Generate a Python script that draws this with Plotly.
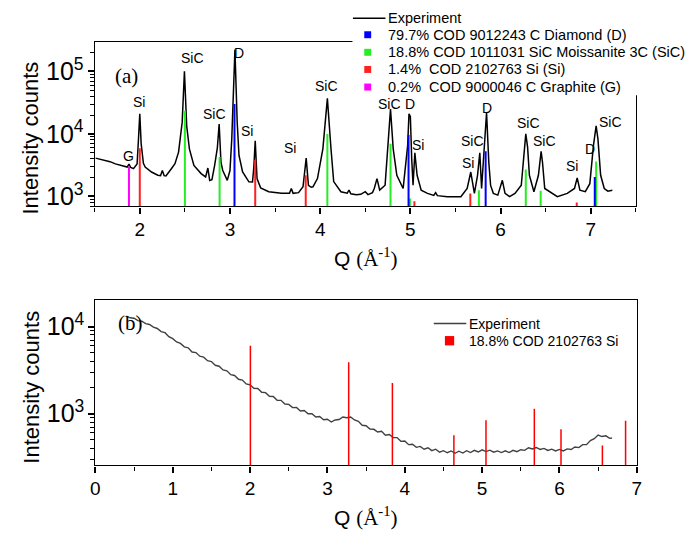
import plotly.graph_objects as go

W, H = 697, 533
SANS = "Liberation Sans, Arial, sans-serif"
SERIF = "Liberation Serif, Times New Roman, serif"

# ---------------- panel (a): diffraction pattern ----------------
q_a = [1.51, 1.56, 1.62, 1.67, 1.73, 1.78, 1.82, 1.86, 1.88, 1.90, 1.93, 1.97, 1.985, 2.00, 2.015,
       2.04, 2.06, 2.13, 2.20, 2.23, 2.25, 2.27, 2.29, 2.33, 2.35, 2.39, 2.43, 2.47, 2.495, 2.52,
       2.55, 2.60, 2.68, 2.73, 2.755, 2.775, 2.80, 2.83, 2.86, 2.88, 2.90, 2.92, 2.94, 2.97, 3.00,
       3.02, 3.055, 3.08, 3.10, 3.14, 3.21, 3.25, 3.265, 3.28, 3.30, 3.34, 3.43, 3.50, 3.57, 3.66,
       3.68, 3.70, 3.76, 3.81, 3.845, 3.87, 3.90, 3.92, 3.97, 4.03, 4.08, 4.12, 4.15, 4.23, 4.30,
       4.32, 4.34, 4.40, 4.45, 4.50, 4.53, 4.58, 4.60, 4.63, 4.66, 4.72, 4.75, 4.78, 4.81, 4.85,
       4.92, 4.97, 4.985, 5.00, 5.015, 5.03, 5.05, 5.075, 5.12, 5.19, 5.26, 5.28, 5.30, 5.41, 5.56,
       5.63, 5.67, 5.71, 5.745, 5.77, 5.79, 5.82, 5.845, 5.87, 5.89, 5.92, 5.97, 6.02, 6.05, 6.10,
       6.16, 6.23, 6.26, 6.28, 6.30, 6.32, 6.37, 6.42, 6.45, 6.465, 6.49, 6.56, 6.63, 6.74, 6.82,
       6.85, 6.88, 6.94, 6.99, 7.03, 7.06, 7.08, 7.11, 7.15, 7.19, 7.24]
i_a = [4100, 3950, 3770, 3600, 3320, 3150, 3030, 2950, 3300, 2900, 2780, 3300, 8000, 21000, 7000,
       3400, 2960, 2460, 2180, 2150, 2610, 2150, 2130, 2500, 2780, 3340, 5120, 15300, 101000, 13500,
       5770, 3140, 2320, 2050, 2850, 1800, 1850, 3150, 6000, 14400, 3550, 2600, 2200, 1810, 2600,
       8300, 224000, 15400, 4530, 2460, 1710, 1700, 3000, 7800, 1930, 1370, 1190, 1140, 1120, 1120,
       1340, 1120, 1150, 1425, 4100, 1510, 1400, 1425, 1930, 5780, 37000, 5800, 1730, 1190, 1130,
       1260, 1100, 1060, 1080, 1190, 1070, 1150, 1340, 1930, 1260, 1510, 6500, 24900, 5780, 2180,
       1340, 6500, 21000, 19000, 4000, 1510, 4980, 2180, 1260, 1120, 1040, 1150, 1030, 990, 990,
       1340, 2460, 1120, 2180, 4980, 1340, 6500, 22000, 3500, 1500, 1120, 1050, 1810, 1120, 990,
       1120, 1510, 4530, 10000, 6150, 2180, 1190, 2180, 5250, 3550, 1340, 1150, 990, 1120, 1340,
       1980, 1260, 1190, 1600, 6500, 13500, 8320, 2180, 1340, 1215, 1260]

# reference reflections: positions and stick heights
diamond_q = [3.05, 4.98, 5.835, 7.045]
diamond_h = [30000, 9600, 5300, 2050]
sic_q = [2.50, 2.885, 4.08, 4.78, 4.995, 5.76, 6.28, 6.445, 7.06]
sic_h = [23500, 4270, 10000, 6950, 930, 1260, 2700, 1230, 3630]
si_q = [2.00, 3.28, 3.84, 5.045, 5.665, 6.845]
si_h = [5900, 3870, 2180, 840, 1115, 800]
graphite_q = [1.88]
graphite_h = [3000]

peak_labels = ["G", "Si", "SiC", "SiC", "D", "Si", "Si", "SiC", "SiC", "D", "Si", "SiC",
               "Si", "D", "SiC", "SiC", "Si", "D", "SiC"]
peak_label_q = [1.88, 1.99, 2.58, 2.83, 3.10, 3.19, 3.67, 4.07, 4.77, 5.00, 5.09, 5.69,
                5.64, 5.85, 6.31, 6.49, 6.79, 6.99, 7.22]
peak_label_logi = [3.65, 4.51, 5.21, 4.32, 5.30, 4.05, 3.78, 4.76, 4.48, 4.48, 3.83, 3.89,
                   3.54, 4.41, 4.17, 3.89, 3.49, 3.76, 4.19]

legend_a = ["Experiment",
            "79.7% COD 9012243 C Diamond (D)",
            "18.8% COD 1011031 SiC Moissanite 3C (SiC)",
            "1.4%\u00a0\u00a0COD 2102763 Si (Si)",
            "0.2%\u00a0\u00a0COD 9000046 C Graphite (G)"]

# ---------------- panel (b): diffuse pattern ----------------
q_b = [0.40, 0.45, 0.50, 0.55, 0.60, 0.65, 0.70, 0.75, 0.80, 0.85, 0.90, 0.95, 1.00, 1.05, 1.10,
       1.15, 1.20, 1.25, 1.30, 1.35, 1.40, 1.45, 1.50, 1.55, 1.60, 1.65, 1.70, 1.75, 1.80, 1.85,
       1.90, 1.95, 2.00, 2.05, 2.10, 2.15, 2.20, 2.25, 2.30, 2.35, 2.40, 2.45, 2.50, 2.55, 2.60,
       2.65, 2.70, 2.75, 2.80, 2.85, 2.90, 2.95, 3.00, 3.05, 3.10, 3.15, 3.20, 3.25, 3.30, 3.35,
       3.40, 3.45, 3.50, 3.55, 3.60, 3.65, 3.70, 3.75, 3.80, 3.85, 3.90, 3.95, 4.00, 4.05, 4.10,
       4.15, 4.20, 4.25, 4.30, 4.35, 4.40, 4.45, 4.50, 4.55, 4.60, 4.65, 4.70, 4.75, 4.80, 4.85,
       4.90, 4.95, 5.00, 5.05, 5.10, 5.15, 5.20, 5.25, 5.30, 5.35, 5.40, 5.45, 5.50, 5.55, 5.60,
       5.65, 5.70, 5.75, 5.80, 5.85, 5.90, 5.95, 6.00, 6.05, 6.10, 6.15, 6.20, 6.25, 6.30, 6.35,
       6.40, 6.45, 6.50, 6.55, 6.60, 6.65, 6.68]
i_b = [13200, 12600, 12450, 11700, 11500, 10800, 10550, 9850, 9500, 8750, 8500, 7650, 7250, 6650, 6400,
       5850, 5700, 5100, 5020, 4560, 4450, 4050, 3960, 3590, 3500, 3170, 3100, 2800, 2740, 2480,
       2430, 2190, 2140, 1950, 1940, 1760, 1740, 1580, 1570, 1420, 1420, 1290, 1275, 1170, 1175,
       1070, 1085, 995, 1000, 915, 925, 850, 860, 800, 845, 855, 915, 895, 915, 845,
       815, 735, 725, 665, 660, 615, 625, 565, 575, 530, 530, 480, 485, 440, 445,
       410, 420, 390, 405, 375, 390, 360, 375, 355, 372, 350, 370, 352, 375, 357,
       378, 362, 383, 366, 380, 360, 373, 357, 373, 357, 378, 365, 385, 378, 405,
       392, 408, 387, 398, 377, 390, 372, 388, 372, 393, 387, 413, 407, 440, 440,
       490, 515, 567, 545, 555, 520, 525]

si_b_q = [2.004, 3.275, 3.84, 4.635, 5.05, 5.675, 6.02, 6.555, 6.855]
si_b_h = [6000, 3900, 2240, 565, 840, 1140, 660, 430, 826]

legend_b = ["Experiment", "18.8% COD 2102763 Si"]


def sticks(qs, hs, floor=1.0):
    xs, ys = [], []
    for q, h in zip(qs, hs):
        xs += [q, q, None]
        ys += [floor, h, None]
    return xs, ys


def fx(p):
    return p / W


def fy(p):
    return 1 - p / H


fig = go.Figure()

# panel (a)
fig.add_trace(go.Scatter(x=q_a, y=i_a, mode="lines", line=dict(color="black", width=1.5),
                         xaxis="x", yaxis="y", showlegend=False))
phase_sets = [(graphite_q, graphite_h, "#ff00ff"), (si_q, si_h, "#ff2020"),
              (sic_q, sic_h, "#22ee22"), (diamond_q, diamond_h, "#0000ff")]
for qs, hs, col in phase_sets:
    xs, ys = sticks(qs, hs)
    fig.add_trace(go.Scatter(x=xs, y=ys, mode="lines", line=dict(color=col, width=2),
                             xaxis="x", yaxis="y", showlegend=False, hoverinfo="skip"))

# panel (b)
fig.add_trace(go.Scatter(x=q_b, y=i_b, mode="lines", line=dict(color="#404040", width=1.4),
                         xaxis="x2", yaxis="y2", showlegend=False))
xs, ys = sticks(si_b_q, si_b_h)
fig.add_trace(go.Scatter(x=xs, y=ys, mode="lines", line=dict(color="#ff0000", width=1.5),
                         xaxis="x2", yaxis="y2", showlegend=False, hoverinfo="skip"))

axis_style = dict(showline=True, linecolor="black", linewidth=1.2, mirror=True,
                  ticks="outside", ticklen=6, tickwidth=1.5, tickcolor="black",
                  showgrid=False, zeroline=False)
x_minor = dict(ticks="outside", ticklen=4, tickwidth=1.2, tickcolor="black", dtick=0.5,
               showgrid=False)
y_minor = dict(ticks="outside", ticklen=4, tickwidth=1.2, tickcolor="black", dtick="D1",
               showgrid=False)
xfont = dict(family=SANS, size=19, color="black")
yfont = dict(family=SANS, size=20, color="black")

fig.update_layout(
    width=W, height=H, margin=dict(l=0, r=0, t=0, b=0),
    paper_bgcolor="white", plot_bgcolor="white", showlegend=False,
    xaxis=dict(domain=[fx(91), fx(640)], range=[1.5, 7.5], anchor="y", dtick=1,
               minor=x_minor, tickfont=xfont, **axis_style),
    yaxis=dict(domain=[fy(208), fy(42)], type="log", range=[2.84, 5.476], anchor="x",
               dtick=1, exponentformat="power", minor=y_minor, tickfont=yfont, **axis_style),
    xaxis2=dict(domain=[fx(91.7), fx(641)], range=[0, 7], anchor="y2", dtick=1,
                minor=x_minor, tickfont=xfont, **axis_style),
    yaxis2=dict(domain=[fy(469), fy(302.7)], type="log", range=[2.404, 4.30], anchor="x2",
                dtick=1, exponentformat="power", minor=y_minor, tickfont=yfont, **axis_style),
)

shapes = []
annotations = []

# legend box of panel (a), drawn over the frame corner
shapes.append(dict(type="rect", xref="paper", yref="paper", x0=fx(352.5), x1=fx(697),
                   y0=fy(96), y1=fy(0), fillcolor="white", line=dict(width=0), layer="above"))
rows_a = [18.3, 35.0, 52.7, 70.0, 87.7]
shapes.append(dict(type="line", xref="paper", yref="paper", x0=fx(353), x1=fx(386),
                   y0=fy(rows_a[0]), y1=fy(rows_a[0]), line=dict(color="black", width=1.5),
                   layer="above"))
for row, col in zip(rows_a[1:], ["#0000ff", "#22ee22", "#ff2020", "#ff00ff"]):
    shapes.append(dict(type="rect", xref="paper", yref="paper", x0=fx(364.5), x1=fx(371.5),
                       y0=fy(row + 3.5), y1=fy(row - 3.5), fillcolor=col, line=dict(width=0),
                       layer="above"))
for row, txt in zip(rows_a, legend_a):
    annotations.append(dict(text=txt, xref="paper", yref="paper", x=fx(387), y=fy(row),
                            xanchor="left", yanchor="middle", showarrow=False,
                            font=dict(family=SANS, size=14.5, color="black")))

# legend of panel (b)
rows_b = [326.0, 343.3]
shapes.append(dict(type="line", xref="paper", yref="paper", x0=fx(435), x1=fx(468),
                   y0=fy(rows_b[0]), y1=fy(rows_b[0]), line=dict(color="#404040", width=1.5),
                   layer="above"))
shapes.append(dict(type="rect", xref="paper", yref="paper", x0=fx(446.3), x1=fx(455.7),
                   y0=fy(rows_b[1] + 4.7), y1=fy(rows_b[1] - 4.7), fillcolor="#ff0000",
                   line=dict(width=0), layer="above"))
for row, txt in zip(rows_b, legend_b):
    annotations.append(dict(text=txt, xref="paper", yref="paper", x=fx(469), y=fy(row),
                            xanchor="left", yanchor="middle", showarrow=False,
                            font=dict(family=SANS, size=14, color="black")))

# phase labels over the peaks
for txt, q, li in zip(peak_labels, peak_label_q, peak_label_logi):
    annotations.append(dict(text=txt, xref="x", yref="y", x=q, y=li, showarrow=False,
                            xanchor="center", yanchor="middle",
                            font=dict(family=SANS, size=14, color="black")))

# panel tags
annotations.append(dict(text="(a)", xref="paper", yref="paper", x=fx(110), y=fy(62),
                        showarrow=False, font=dict(family=SERIF, size=21, color="black")))
annotations.append(dict(text="(b)", xref="paper", yref="paper", x=fx(113), y=fy(325),
                        showarrow=False, font=dict(family=SERIF, size=21, color="black")))

# axis titles
qtitle = "Q <span style='font-family:Liberation Serif, Times New Roman, serif'>(Å<sup>-1</sup>)</span>"
for ycen in (259, 520):
    annotations.append(dict(text=qtitle, xref="paper", yref="paper", x=fx(366), y=fy(ycen),
                            showarrow=False, xanchor="center", yanchor="middle",
                            font=dict(family=SANS, size=21, color="black")))
for ycen in (139, 390):
    annotations.append(dict(text="Intensity counts", xref="paper", yref="paper", x=fx(26),
                            y=fy(ycen), showarrow=False, textangle=-90, xanchor="center",
                            yanchor="middle", font=dict(family=SANS, size=22, color="black")))

fig.update_layout(shapes=shapes, annotations=annotations)
fig.write_html("out.html")
